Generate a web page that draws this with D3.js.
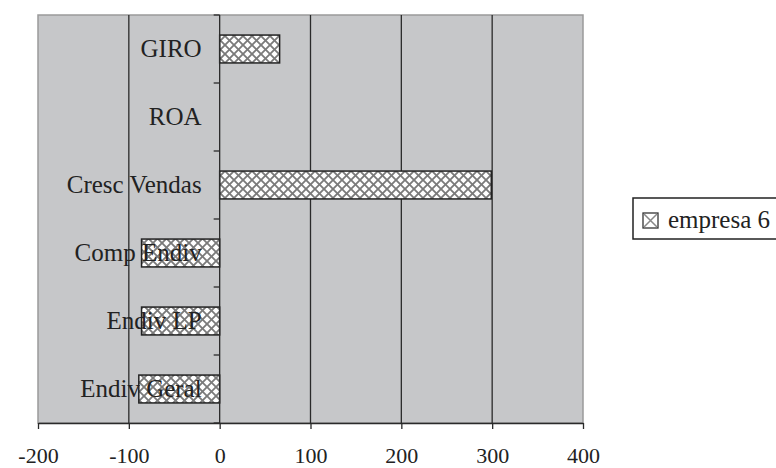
<!DOCTYPE html>
<html>
<head>
<meta charset="utf-8">
<script src="https://cdn.jsdelivr.net/npm/d3@7"></script>
<style>
  body { margin: 0; background: #fff; }
  svg { display: block; }
  text { font-family: "Liberation Serif", "Times New Roman", serif !important; fill: #222; }
</style>
</head>
<body>
<svg id="chart" width="776" height="468"></svg>
<script>
// Data (top to bottom)
const categories = ["GIRO", "ROA", "Cresc Vendas", "Comp Endiv", "Endiv LP", "Endiv Geral"];
const values = [66, 0, 299, -86, -86, -89];
const xTicks = [-200, -100, 0, 100, 200, 300, 400];
const seriesName = "empresa 6";

const svg = d3.select("#chart");
const plot = { left: 38, right: 583, top: 15, bottom: 423 };

const x = d3.scaleLinear().domain([-200, 400]).range([plot.left, plot.right]);
const y = d3.scaleBand().domain(categories).range([plot.top, plot.bottom]).paddingInner(0.59).paddingOuter(0.295);
const band = d3.scaleBand().domain(categories).range([plot.top, plot.bottom]);

// pattern
const defs = svg.append("defs");
const pat = defs.append("pattern").attr("id", "hatch").attr("patternUnits", "userSpaceOnUse")
  .attr("width", 9).attr("height", 9);
pat.append("rect").attr("width", 9).attr("height", 9).attr("fill", "#fff");
pat.append("path").attr("d", "M-1,1 L1,-1 M0,9 L9,0 M8,10 L10,8").attr("stroke", "#7a7a7a").attr("stroke-width", 1.8);
pat.append("path").attr("d", "M-1,8 L1,10 M0,0 L9,9 M8,-1 L10,1").attr("stroke", "#7a7a7a").attr("stroke-width", 1.8);

// plot background
svg.append("rect").attr("x", plot.left).attr("y", plot.top)
  .attr("width", plot.right - plot.left).attr("height", plot.bottom - plot.top)
  .attr("fill", "#c6c7c9").attr("stroke", "#9a9a9a").attr("stroke-width", 1.5);

// vertical gridlines
svg.append("g").selectAll("line").data(xTicks.filter(d => d !== -200 && d !== 0 && d !== 400)).join("line")
  .attr("x1", d => x(d)).attr("x2", d => x(d))
  .attr("y1", plot.top).attr("y2", plot.bottom)
  .attr("stroke", "#2a2a2a").attr("stroke-width", 1.3);

// bottom axis
const xAxis = svg.append("g").attr("transform", `translate(0,${plot.bottom})`)
  .call(d3.axisBottom(x).tickValues(xTicks).tickFormat(d => String(d)).tickSize(6).tickPadding(18).tickSizeOuter(0));
xAxis.select(".domain").attr("stroke", "#2a2a2a").attr("stroke-width", 1.3);
xAxis.selectAll(".tick line").attr("stroke", "#2a2a2a").attr("stroke-width", 1.3);
xAxis.selectAll(".tick text").attr("font-size", 22).attr("font-family", "Liberation Serif").attr("fill", "#222");

// bars
svg.append("g").selectAll("rect").data(categories.map((c, i) => ({ c, v: values[i] }))).join("rect")
  .filter(d => d.v !== 0)
  .attr("x", d => x(Math.min(0, d.v)))
  .attr("y", d => y(d.c))
  .attr("width", d => Math.abs(x(d.v) - x(0)))
  .attr("height", y.bandwidth())
  .attr("fill", "url(#hatch)").attr("stroke", "#222").attr("stroke-width", 1.5);

// zero axis with ticks at band boundaries
const yAxis = svg.append("g");
yAxis.append("line").attr("x1", x(0)).attr("x2", x(0)).attr("y1", plot.top).attr("y2", plot.bottom)
  .attr("stroke", "#2a2a2a").attr("stroke-width", 1.3);
const boundaries = categories.map(c => band(c)).concat([plot.bottom]);
yAxis.selectAll("line.tk").data(boundaries).join("line").attr("class", "tk")
  .attr("x1", x(0) - 6).attr("x2", x(0)).attr("y1", d => d).attr("y2", d => d)
  .attr("stroke", "#2a2a2a").attr("stroke-width", 1.3);

// category labels
svg.append("g").selectAll("text").data(categories).join("text")
  .attr("x", x(0) - 18)
  .attr("y", d => band(d) + band.bandwidth() / 2 + 8)
  .attr("text-anchor", "end")
  .attr("font-size", 25)
  .attr("font-family", "Liberation Serif")
  .text(d => d);

// legend
const lg = svg.append("g");
lg.append("rect").attr("x", 633).attr("y", 198).attr("width", 160).attr("height", 41)
  .attr("fill", "#fff").attr("stroke", "#222").attr("stroke-width", 1.5);
lg.append("rect").attr("x", 643).attr("y", 213).attr("width", 15).attr("height", 15)
  .attr("fill", "#fff").attr("stroke", "#333").attr("stroke-width", 1.3);
lg.append("path").attr("d", "M644,214 L657,227 M657,214 L644,227").attr("stroke", "#888").attr("stroke-width", 1.5);
lg.append("text").attr("x", 668).attr("y", 228).attr("font-size", 25).attr("font-family", "Liberation Serif").text(seriesName);
</script>
</body>
</html>
